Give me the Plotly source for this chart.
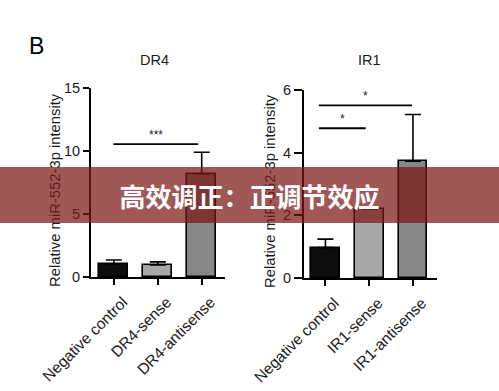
import plotly.graph_objects as go

# ---- data ----
dr4_categories = ["Negative control", "DR4-sense", "DR4-antisense"]
dr4_values = [1.03, 0.95, 8.2]
dr4_err_up = [0.32, 0.25, 1.7]

ir1_categories = ["Negative control", "IR1-sense", "IR1-antisense"]
ir1_values = [0.97, 2.2, 3.73]
ir1_err_up = [0.27, 0.0, 1.49]

dr4_ticks = [0, 5, 10, 15]
ir1_ticks = [0, 2, 4, 6]

bar_colors = ["#0d0d0d", "#a8a8a8", "#878787"]

FONT = "Liberation Sans, Arial, sans-serif"
TXT = "#1a1a1a"

fig = go.Figure()

fig.add_trace(go.Bar(
    x=list(range(len(dr4_categories))), y=dr4_values,
    width=0.66,
    marker=dict(color=bar_colors, line=dict(color="black", width=1.6)),
    error_y=dict(type="data", symmetric=False, array=dr4_err_up,
                 arrayminus=[0] * len(dr4_values), color="black",
                 thickness=1.6, width=8),
    xaxis="x", yaxis="y", showlegend=False,
))
fig.add_trace(go.Bar(
    x=list(range(len(ir1_categories))), y=ir1_values,
    width=0.66,
    marker=dict(color=bar_colors, line=dict(color="black", width=1.6)),
    error_y=dict(type="data", symmetric=False, array=ir1_err_up,
                 arrayminus=[0] * len(ir1_values), color="black",
                 thickness=1.6, width=8),
    xaxis="x2", yaxis="y2", showlegend=False,
))

axis_common = dict(showline=True, linecolor="black", linewidth=2,
                   ticks="outside", tickwidth=1.6, tickcolor="black",
                   showgrid=False, zeroline=False, fixedrange=True,
                   automargin=False)
xtickfont = dict(size=15.5, family=FONT, color=TXT)
ytickfont = dict(size=14.5, family=FONT, color=TXT)

fig.update_layout(
    width=499, height=391,
    margin=dict(l=0, r=0, t=0, b=0, autoexpand=False),
    paper_bgcolor="white", plot_bgcolor="white",
    font=dict(family=FONT, color=TXT),
    bargap=0,
    xaxis=dict(domain=[91 / 499, 225 / 499], range=[-0.52, 2.53], anchor="y",
               tickvals=[0, 1, 2], ticktext=dr4_categories, tickangle=-45,
               ticklabelshift=9, ticklabelstandoff=2, ticklen=6,
               tickfont=xtickfont, **axis_common),
    yaxis=dict(domain=[1 - 277 / 391, 1 - 88 / 391], range=[0, 15], anchor="x",
               tickvals=dr4_ticks, tickfont=ytickfont, ticklen=6, **axis_common),
    xaxis2=dict(domain=[304 / 499, 437 / 499], range=[-0.49, 2.55], anchor="y2",
                tickvals=[0, 1, 2], ticktext=ir1_categories, tickangle=-45,
                ticklabelshift=9, ticklabelstandoff=2, ticklen=6,
                tickfont=xtickfont, **axis_common),
    yaxis2=dict(domain=[1 - 278 / 391, 1 - 90 / 391], range=[0, 6], anchor="x2",
                tickvals=ir1_ticks, tickfont=ytickfont, ticklen=8, **axis_common),
)

# significance brackets
line_style = dict(color="black", width=1.8)
fig.add_shape(type="line", xref="x", yref="y", x0=-0.01, x1=1.92, y0=10.55, y1=10.55, line=line_style)
fig.add_shape(type="line", xref="x2", yref="y2", x0=-0.15, x1=1.98, y0=5.51, y1=5.51, line=line_style)
fig.add_shape(type="line", xref="x2", yref="y2", x0=-0.15, x1=0.92, y0=4.78, y1=4.78, line=line_style)

star_font = dict(size=12, color=TXT)
fig.add_annotation(x=0.95, y=10.55, xref="x", yref="y", text="***", showarrow=False,
                   xanchor="center", yanchor="bottom", font=star_font)
fig.add_annotation(x=0.92, y=5.51, xref="x2", yref="y2", text="*", showarrow=False,
                   xanchor="center", yanchor="bottom", font=star_font)
fig.add_annotation(x=0.39, y=4.78, xref="x2", yref="y2", text="*", showarrow=False,
                   xanchor="center", yanchor="bottom", font=star_font)

# titles
def label(px, py, text, size, color=TXT, angle=0):
    fig.add_annotation(x=px / 499, y=1 - py / 391, xref="paper", yref="paper",
                       text=text, showarrow=False, xanchor="center", yanchor="middle",
                       textangle=angle, font=dict(size=size, color=color))

label(154, 60, "DR4", 14.5)
label(369, 60, "IR1", 14.5)
label(36, 46, "B", 23, color="black")

ytitle = "Relative miR-552-3p intensity"
label(55, 190, ytitle, 14.8, angle=-90)
label(270, 191, ytitle, 14.8, angle=-90)

# banner overlay
fig.add_annotation(x=0.5, y=1 - 195 / 391, xref="paper", yref="paper",
                   xanchor="center", yanchor="middle",
                   text="<b>高效调正：正调节效应</b>", showarrow=False,
                   width=499, height=56, borderpad=0, borderwidth=0,
                   bgcolor="rgba(123,24,22,0.72)",
                   font=dict(size=26, color="white", family="Noto Sans CJK SC"))

fig.write_html("out.html", config={"displayModeBar": False},
               post_script="document.body.style.margin='0px';")
